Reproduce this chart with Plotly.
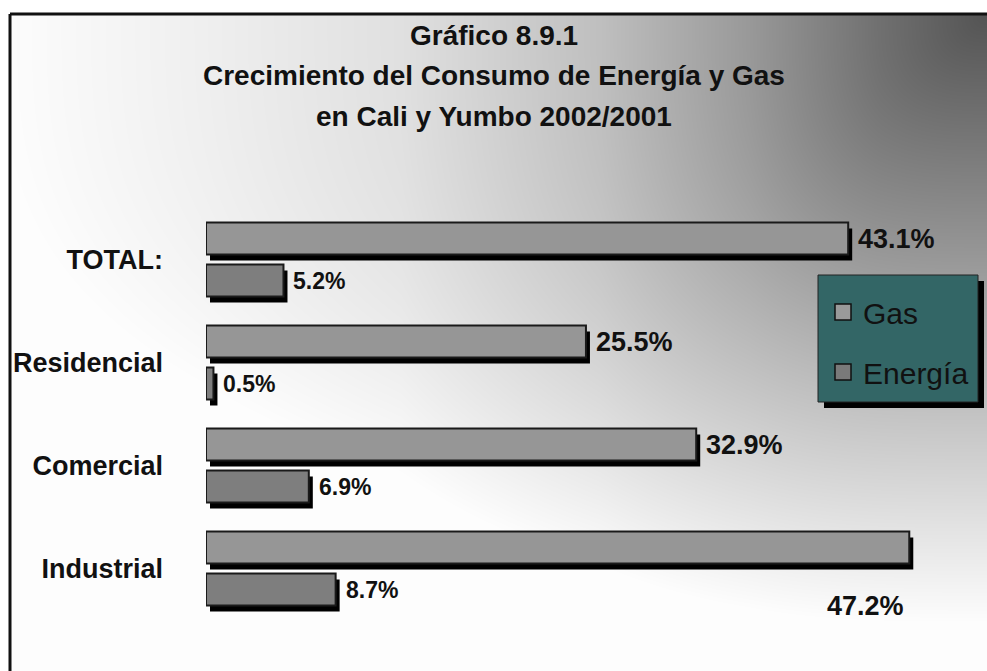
import base64
import struct
import zlib

import numpy as np
import plotly.graph_objects as go

# ---- data ---------------------------------------------------------------
categories = ["TOTAL:", "Residencial", "Comercial", "Industrial"]
gas = [43.1, 25.5, 32.9, 47.2]
energia = [5.2, 0.5, 6.9, 8.7]
series_names = ["Gas", "Energía"]
title_lines = [
    "Gráfico 8.9.1",
    "Crecimiento del Consumo de Energía y Gas",
    "en Cali y Yumbo 2002/2001",
]

# ---- page geometry (pixels) ----------------------------------------------
W, H = 987, 671
ML, MR, MT, MB = 206, 36, 208, 51
PW, PH = W - ML - MR, H - MT - MB
X_MAX = 50
BAND = PH / len(categories)          # pixels per category

FONT = "Liberation Sans, Arial, sans-serif"


def px(xpix):
    return (xpix - ML) / PW


def py(ypix):
    return (H - MB - ypix) / PH


# ---- background: corner gradient, dark at the upper right -------------------
FX0, FY0 = 10, 14
gw, gh = W - FX0, H - FY0
xx = np.arange(gw)[None, :]
yy = np.arange(gh)[:, None]
u = (gw - xx) / gw
v = yy / gh
U = np.interp(u, [0, 0.11, 0.243, 0.396, 0.6, 0.806, 1.0],
              [0, 0.164, 0.403, 0.627, 0.821, 0.91, 0.985])
V = np.clip(1.07 * v, 0, 1)
r = np.minimum((U ** 3 + V ** 3) ** (1 / 3), 1.0)
lum = np.clip(1 - 0.67 * (1 - r), 0, 0.995)
img = (lum * 255).astype(np.uint8)


def png_gray(a):
    h, w = a.shape
    raw = b"".join(b"\x00" + a[i].tobytes() for i in range(h))

    def chunk(tag, data):
        c = struct.pack(">I", len(data)) + tag + data
        return c + struct.pack(">I", zlib.crc32(tag + data) & 0xFFFFFFFF)

    ihdr = struct.pack(">IIBBBBB", w, h, 8, 0, 0, 0, 0)
    return (b"\x89PNG\r\n\x1a\n" + chunk(b"IHDR", ihdr)
            + chunk(b"IDAT", zlib.compress(raw, 9)) + chunk(b"IEND", b""))


bg_uri = "data:image/png;base64," + base64.b64encode(png_gray(img)).decode()

# ---- bars ---------------------------------------------------------------------
bar_w = 32 / BAND
offsets = [-37 / BAND, 5 / BAND]
shadow_dx = 4 / PW * X_MAX
shadow_dy = 6 / BAND
fills = ["#969696", "#7e7e7e"]

fig = go.Figure()

for vals, off in zip([gas, energia], offsets):
    fig.add_trace(go.Bar(
        y=categories, x=vals, orientation="h", base=shadow_dx,
        offset=off + shadow_dy, width=bar_w,
        marker=dict(color="#000000", line=dict(width=0)),
        showlegend=False, hoverinfo="skip",
    ))

for name, vals, off, col in zip(series_names, [gas, energia], offsets, fills):
    fig.add_trace(go.Bar(
        y=categories, x=vals, orientation="h", name=name,
        offset=off, width=bar_w, showlegend=False,
        marker=dict(color=col, line=dict(color="#1a1a1a", width=2)),
    ))

# legend keys: square swatches in the bar colours
for name, col in zip(series_names, ["#9a9a9a", "#7a7a7a"]):
    fig.add_trace(go.Scatter(
        x=[None], y=[None], mode="markers", name=name, legendgroup=name,
        marker=dict(symbol="square", size=17, color=col,
                    line=dict(color="#111", width=1.5)),
    ))

# ---- value labels ---------------------------------------------------------------
annotations = []
for cat, val in zip(categories, gas):
    if val == max(gas):
        annotations.append(dict(
            x=val, y=cat, xref="x", yref="y", text=f"<b>{val:.1f}%</b>",
            showarrow=False, xanchor="right", yanchor="middle",
            xshift=-3, yshift=-37, font=dict(family=FONT, size=27, color="#111"),
        ))
    else:
        annotations.append(dict(
            x=val, y=cat, xref="x", yref="y", text=f"<b>{val:.1f}%</b>",
            showarrow=False, xanchor="left", yanchor="middle",
            xshift=8, yshift=21, font=dict(family=FONT, size=27, color="#111"),
        ))
for cat, val in zip(categories, energia):
    annotations.append(dict(
        x=val, y=cat, xref="x", yref="y", text=f"<b>{val:.1f}%</b>",
        showarrow=False, xanchor="left", yanchor="middle",
        xshift=8, yshift=-21, font=dict(family=FONT, size=23, color="#111"),
    ))

# ---- title ------------------------------------------------------------------------
for line, ycen in zip(title_lines, [36, 76, 116]):
    annotations.append(dict(
        x=px(494), y=py(ycen), xref="paper", yref="paper", text=f"<b>{line}</b>",
        showarrow=False, xanchor="center", yanchor="middle",
        font=dict(family=FONT, size=28, color="#111"),
    ))

# ---- frame and legend box ------------------------------------------------------------
shapes = [
    dict(type="line", xref="paper", yref="paper", x0=px(FX0), y0=py(FY0),
         x1=px(W + 5), y1=py(FY0), line=dict(color="#111", width=3), layer="above"),
    dict(type="line", xref="paper", yref="paper", x0=px(FX0), y0=py(FY0),
         x1=px(FX0), y1=py(H + 5), line=dict(color="#111", width=3), layer="above"),
    dict(type="rect", xref="paper", yref="paper", x0=px(824), y0=py(281),
         x1=px(984), y1=py(408), fillcolor="#000", line=dict(width=0), layer="above"),
    dict(type="rect", xref="paper", yref="paper", x0=px(818), y0=py(275),
         x1=px(978), y1=py(402), fillcolor="#336666",
         line=dict(color="#222", width=1), layer="above"),
]

fig.update_layout(
    width=W, height=H,
    margin=dict(l=ML, r=MR, t=MT, b=MB, autoexpand=False),
    paper_bgcolor="#ffffff", plot_bgcolor="rgba(0,0,0,0)",
    barmode="overlay",
    font=dict(family=FONT, color="#111"),
    xaxis=dict(range=[0, X_MAX], visible=False, fixedrange=True),
    yaxis=dict(
        type="category", categoryorder="array", categoryarray=categories,
        range=[len(categories) - 0.5, -0.5], showgrid=False, zeroline=False,
        showline=False, ticks="", ticklabelstandoff=42, automargin=False,
        tickfont=dict(family=FONT, size=27, color="#111", weight="bold"),
    ),
    legend=dict(
        x=px(823), y=py(286), xanchor="left", yanchor="top",
        bgcolor="rgba(0,0,0,0)", borderwidth=0, tracegroupgap=18,
        font=dict(family=FONT, size=30, color="#111"),
    ),
    annotations=annotations,
    shapes=shapes,
    images=[dict(source=bg_uri, xref="paper", yref="paper", x=px(FX0), y=py(FY0),
                 sizex=gw / PW, sizey=gh / PH, xanchor="left", yanchor="top",
                 sizing="stretch", layer="below")],
    showlegend=True,
)

fig.write_html("out.html")
